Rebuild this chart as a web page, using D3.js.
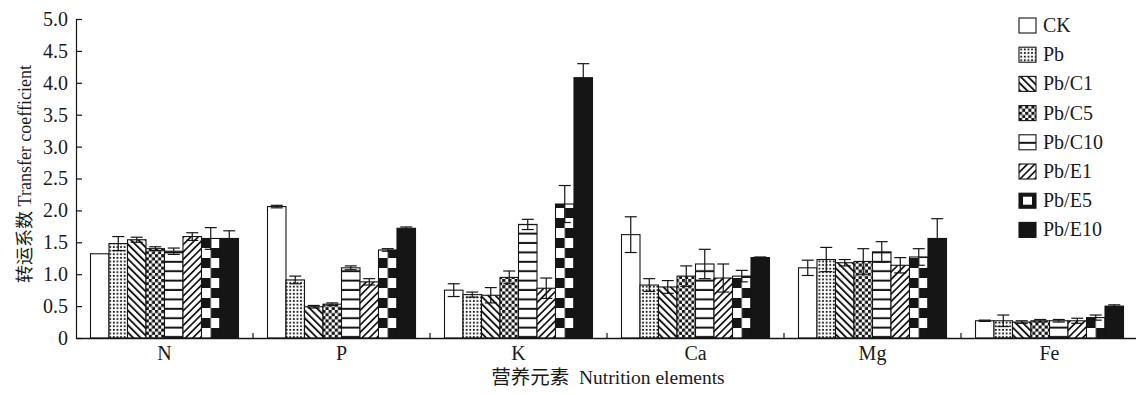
<!DOCTYPE html>
<html>
<head>
<meta charset="utf-8">
<script src="https://cdn.jsdelivr.net/npm/d3@7"></script>
<style>
  html, body { margin: 0; padding: 0; background: #fff; }
  svg { display: block; }
  text { font-family: "Liberation Serif", "Times New Roman", "Noto Sans CJK SC", serif; fill: #1a1a1a; }
</style>
</head>
<body>
<svg id="chart" width="1136" height="395"></svg>
<script>
// Nutrient categories and treatments
const categories = ["N", "P", "K", "Ca", "Mg", "Fe"];
const treatments = ["CK", "Pb", "Pb/C1", "Pb/C5", "Pb/C10", "Pb/E1", "Pb/E5", "Pb/E10"];

// Transfer coefficient means (order follows categories)
const ckMean    = [1.32, 2.06, 0.75, 1.62, 1.10, 0.27];
const pbMean    = [1.48, 0.91, 0.68, 0.83, 1.23, 0.27];
const pbC1Mean  = [1.54, 0.49, 0.67, 0.80, 1.18, 0.25];
const pbC5Mean  = [1.40, 0.53, 0.95, 0.97, 1.20, 0.27];
const pbC10Mean = [1.36, 1.10, 1.78, 1.16, 1.35, 0.27];
const pbE1Mean  = [1.59, 0.88, 0.78, 0.94, 1.14, 0.27];
const pbE5Mean  = [1.56, 1.38, 2.10, 0.97, 1.27, 0.32];
const pbE10Mean = [1.56, 1.72, 4.08, 1.26, 1.56, 0.50];

// Standard deviations
const ckErr    = [0.00, 0.02, 0.10, 0.28, 0.12, 0.01];
const pbErr    = [0.11, 0.06, 0.04, 0.10, 0.19, 0.09];
const pbC1Err  = [0.04, 0.02, 0.12, 0.10, 0.05, 0.02];
const pbC5Err  = [0.03, 0.02, 0.10, 0.16, 0.20, 0.02];
const pbC10Err = [0.05, 0.03, 0.08, 0.23, 0.16, 0.02];
const pbE1Err  = [0.06, 0.05, 0.16, 0.22, 0.12, 0.04];
const pbE5Err  = [0.17, 0.02, 0.29, 0.09, 0.13, 0.04];
const pbE10Err = [0.12, 0.02, 0.22, 0.01, 0.31, 0.02];

// Y axis ticks
const yTicks = [0, 0.5, 1.0, 1.5, 2.0, 2.5, 3.0, 3.5, 4.0, 4.5, 5.0];

const means = [ckMean, pbMean, pbC1Mean, pbC5Mean, pbC10Mean, pbE1Mean, pbE5Mean, pbE10Mean];
const errs  = [ckErr, pbErr, pbC1Err, pbC5Err, pbC10Err, pbE1Err, pbE5Err, pbE10Err];

const records = [];
categories.forEach((c, ci) => {
  treatments.forEach((t, ti) => {
    records.push({ cat: c, ci, trt: t, ti, value: means[ti][ci], err: errs[ti][ci] });
  });
});

const svg = d3.select("#chart");
const ink = "#151515";

const plot = { left: 76, right: 1138, top: 19, bottom: 338 };

const x0 = d3.scaleBand().domain(categories).range([plot.left, plot.right]).padding(0);
const x1 = d3.scaleBand().domain(treatments).range([14.5, x0.step() - 14.5]);
const y  = d3.scaleLinear().domain([0, 5]).range([plot.bottom, plot.top]);

// ---------- fill patterns ----------
const defs = svg.append("defs");

function stripePattern(id, angle, gap, thick) {
  const p = defs.append("pattern")
    .attr("id", id).attr("patternUnits", "userSpaceOnUse")
    .attr("width", gap).attr("height", gap)
    .attr("patternTransform", `rotate(${angle})`);
  p.append("rect").attr("width", gap).attr("height", gap).attr("fill", "#fff");
  p.append("rect").attr("x", 0).attr("width", thick).attr("height", gap).attr("fill", ink);
}

// dotted
{
  const p = defs.append("pattern").attr("id", "pat-dots").attr("patternUnits", "userSpaceOnUse")
    .attr("width", 3.6).attr("height", 3.6).attr("x", 0.5).attr("y", 0.5);
  p.append("rect").attr("width", 3.6).attr("height", 3.6).attr("fill", "#fff");
  p.append("rect").attr("x", 0.8).attr("y", 0.8).attr("width", 1.8).attr("height", 1.8).attr("fill", ink);
}
// back diagonal "\" and forward diagonal "/"
stripePattern("pat-back", -45, 5.2, 1.9);
stripePattern("pat-fwd", 45, 5.2, 1.7);
// fine checkerboard
{
  const s = 3.1;
  const p = defs.append("pattern").attr("id", "pat-check").attr("patternUnits", "userSpaceOnUse")
    .attr("width", 2 * s).attr("height", 2 * s);
  p.append("rect").attr("width", 2 * s).attr("height", 2 * s).attr("fill", "#fff");
  p.append("rect").attr("width", s).attr("height", s).attr("fill", ink);
  p.append("rect").attr("x", s).attr("y", s).attr("width", s).attr("height", s).attr("fill", ink);
}
// horizontal lines
{
  const h = 9.4;
  const p = defs.append("pattern").attr("id", "pat-hline").attr("patternUnits", "userSpaceOnUse")
    .attr("width", 10).attr("height", h).attr("y", plot.bottom);
  p.append("rect").attr("width", 10).attr("height", h).attr("fill", "#fff");
  p.append("rect").attr("y", h - 2).attr("width", 10).attr("height", 2).attr("fill", ink);
}
// large checkerboard, one per category so the cells line up with each bar
categories.forEach((c, ci) => {
  const bx = x0(c) + x1("Pb/E5");
  const cw = x1.bandwidth() / 2, ch = 10;
  const p = defs.append("pattern").attr("id", "pat-big-" + ci).attr("patternUnits", "userSpaceOnUse")
    .attr("x", bx).attr("y", plot.bottom).attr("width", 2 * cw).attr("height", 2 * ch);
  p.append("rect").attr("width", 2 * cw).attr("height", 2 * ch).attr("fill", "#fff");
  p.append("rect").attr("x", 0).attr("y", 0).attr("width", cw).attr("height", ch).attr("fill", ink);
  p.append("rect").attr("x", cw).attr("y", ch).attr("width", cw).attr("height", ch).attr("fill", ink);
});

function fillFor(trt, ci) {
  switch (trt) {
    case "CK": return "#fff";
    case "Pb": return "url(#pat-dots)";
    case "Pb/C1": return "url(#pat-back)";
    case "Pb/C5": return "url(#pat-check)";
    case "Pb/C10": return "url(#pat-hline)";
    case "Pb/E1": return "url(#pat-fwd)";
    case "Pb/E5": return `url(#pat-big-${ci})`;
    case "Pb/E10": return ink;
  }
}

// ---------- bars ----------
const bars = svg.append("g").attr("class", "bars");
bars.selectAll("rect").data(records).join("rect")
  .attr("x", d => x0(d.cat) + x1(d.trt))
  .attr("y", d => y(d.value))
  .attr("width", x1.bandwidth())
  .attr("height", d => y(0) - y(d.value))
  .attr("fill", d => fillFor(d.trt, d.ci))
  .attr("stroke", ink).attr("stroke-width", 1.1);

// ---------- error bars ----------
const capHalf = 6;
const eb = svg.append("g").attr("class", "errorbars")
  .selectAll("g").data(records.filter(d => d.err > 0)).join("g")
  .attr("stroke", ink).attr("stroke-width", 1.2);
const cx = d => x0(d.cat) + x1(d.trt) + x1.bandwidth() / 2;
eb.append("line").attr("x1", cx).attr("x2", cx)
  .attr("y1", d => y(d.value + d.err)).attr("y2", d => y(d.value - d.err));
eb.append("line").attr("x1", d => cx(d) - capHalf).attr("x2", d => cx(d) + capHalf)
  .attr("y1", d => y(d.value + d.err)).attr("y2", d => y(d.value + d.err));
eb.append("line").attr("x1", d => cx(d) - capHalf).attr("x2", d => cx(d) + capHalf)
  .attr("y1", d => y(d.value - d.err)).attr("y2", d => y(d.value - d.err));

// ---------- axes ----------
const yAxis = d3.axisLeft(y).tickValues(yTicks).tickSizeInner(-6).tickSizeOuter(0).tickPadding(8)
  .tickFormat(d => d === 0 ? "0" : d3.format(".1f")(d));
const gy = svg.append("g").attr("transform", `translate(${plot.left},0)`).call(yAxis);
gy.selectAll("path, line").attr("stroke", ink).attr("stroke-width", 1.2);
gy.selectAll("text").attr("font-size", 20).attr("fill", "#1a1a1a");

const xAxis = d3.axisBottom(x0).tickSize(0).tickPadding(8);
const gx = svg.append("g").attr("transform", `translate(0,${plot.bottom})`).call(xAxis);
gx.select(".domain").attr("stroke", ink).attr("stroke-width", 1.4);
gx.selectAll("text").attr("font-size", 20).attr("fill", "#1a1a1a");

// separators between category groups
svg.append("g").selectAll("line").data(categories.slice(1)).join("line")
  .attr("x1", d => x0(d)).attr("x2", d => x0(d))
  .attr("y1", plot.bottom).attr("y2", plot.bottom - 5)
  .attr("stroke", ink).attr("stroke-width", 1.2);

// axis titles
svg.append("text")
  .attr("x", (plot.left + plot.right) / 2 + 1).attr("y", 384)
  .attr("text-anchor", "middle").attr("font-size", 19.5)
  .style("white-space", "pre")
  .text("营养元素  Nutrition elements");

svg.append("text")
  .attr("transform", `translate(31,174) rotate(-90)`)
  .attr("text-anchor", "middle").attr("font-size", 18)
  .text("转运系数 Transfer coefficient");

// ---------- legend ----------
const legend = svg.append("g").attr("transform", "translate(1019,18)");
const rowH = 29.2;
const items = legend.selectAll("g").data(treatments).join("g")
  .attr("transform", (d, i) => `translate(0,${i * rowH})`);
items.each(function (t) {
  const g = d3.select(this);
  if (t === "Pb/E5") {
    g.append("rect").attr("width", 17).attr("height", 15).attr("fill", ink);
    g.append("rect").attr("x", 4).attr("y", 3.5).attr("width", 9).attr("height", 8).attr("fill", "#fff");
    g.append("rect").attr("width", 17).attr("height", 15).attr("fill", "none")
      .attr("stroke", ink).attr("stroke-width", 1.1);
  } else {
    g.append("rect").attr("width", 17).attr("height", 15)
      .attr("fill", fillFor(t, 0)).attr("stroke", ink).attr("stroke-width", 1.1);
  }
  g.append("text").attr("x", 24).attr("y", 14).attr("font-size", 20).text(t);
});
</script>
</body>
</html>
